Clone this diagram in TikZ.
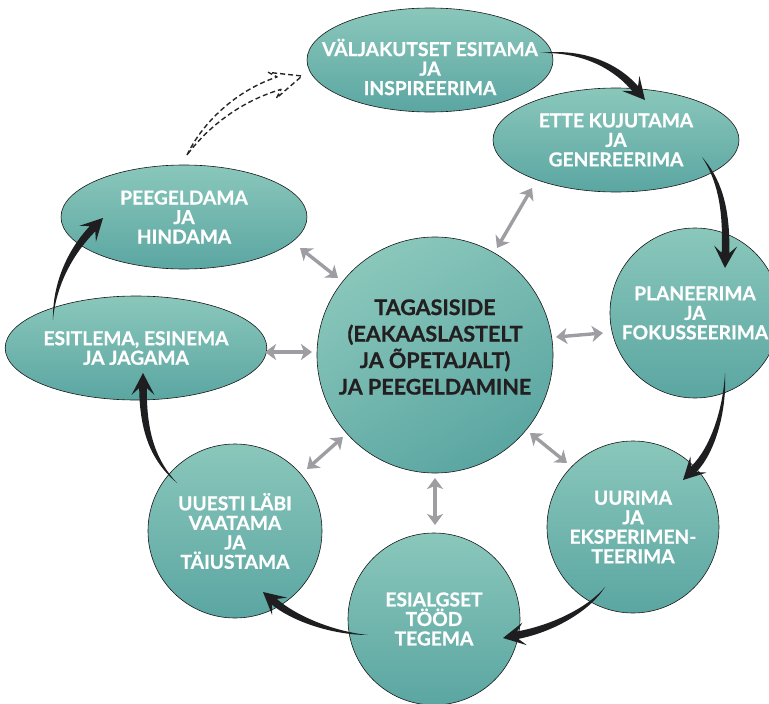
\documentclass[tikz,border=0pt]{standalone}
\usepackage{fontspec}
\newfontfamily\diafont{Lato}[BoldFeatures={FakeBold=0.8}]
\usetikzlibrary{calc,arrows.meta,shapes.geometric}
\definecolor{tealtop}{RGB}{138,199,187}
\definecolor{tealbot}{RGB}{91,166,162}
\definecolor{darktext}{RGB}{35,31,32}
\definecolor{arrowgray}{RGB}{158,158,162}
\definecolor{arrowblack}{RGB}{30,30,32}
\newcommand\stagefont{\diafont\bfseries\fontsize{19.2}{19.5}\selectfont}
\newcommand\hubfont{\diafont\bfseries\fontsize{21.5}{26.5}\selectfont}
\tikzset{
 stage/.style={draw=black!90, line width=0.6pt, top color=tealtop, bottom color=tealbot,
   inner sep=0pt, align=center, text=white, font=\stagefont},
 ovalstage/.style={stage, ellipse, minimum width=246pt, minimum height=104pt},
 roundstage/.style={stage, circle, minimum size=#1},
 hubtext/.style={align=center, text=darktext, font=\hubfont, inner sep=0pt},
 stagetext/.style={align=center, text=white, font=\stagefont, inner sep=0pt},
 linkarrow/.style={draw=arrowgray, line width=3.4pt,
   {Stealth[length=11pt,width=16pt,inset=3pt]}-{Stealth[length=11pt,width=16pt,inset=3pt]}},
 flowarrow/.style={fill=arrowblack},
 hintarrow/.style={draw=black!85, line width=1.4pt, dash pattern=on 5pt off 3pt, line join=round},
}
% #1 style, #2 start, #3 control 1, #4 control 2, #5 tip,
% #6 body half width, #7 inset from tip, #8 extra back of corners, #9 head half width
\newcommand\taperarrow[9]{%
  \pgfmathsetmacro\twa{0.55*#6}%
  \pgfmathsetmacro\twb{0.9*#6}%
  \pgfmathsetmacro\tbk{#7+#8}%
  \coordinate (tE) at ($(#5)!#7pt!(#4)$);
  \coordinate (tB) at ($(#5)!\tbk pt!(#4)$);
  \path[#1] (#2)
    .. controls ($(#3)!\twa pt!90:(#4)$) and ($(#4)!\twb pt!90:(tE)$) .. ($(tE)!#6pt!-90:(#4)$)
    -- ($(tB)!#9pt!-90:(#4)$) -- (#5) -- ($(tB)!#9pt!90:(#4)$) -- ($(tE)!#6pt!90:(#4)$)
    .. controls ($(#4)!\twb pt!-90:(tE)$) and ($(#3)!\twa pt!-90:(#4)$) .. (#2) -- cycle;
}
\begin{document}
\begin{tikzpicture}[x=1pt,y=-1pt]
\useasboundingbox (0,0) rectangle (769,704);

% stages
\node[ovalstage] (v) at (430,60) {};
\node[stagetext] (vtext) at (430,67) {VÄLJAKUTSET ESITAMA\\JA\\INSPIREERIMA};
\node[ovalstage] (e) at (616,140) {ETTE KUJUTAMA\\JA\\GENEREERIMA};
\node[roundstage=170pt] (p) at (695,313) {PLANEERIMA\\JA\\FOKUSSEERIMA};
\node[roundstage=172pt] (u) at (633,527) {UURIMA\\JA\\EKSPERIMEN-\\TEERIMA};
\node[roundstage=172pt] (t) at (434,619) {ESIALGSET\\TÖÖD\\TEGEMA};
\node[roundstage=174pt] (r) at (235,531) {UUESTI LÄBI\\VAATAMA\\JA\\TÄIUSTAMA};
\node[ovalstage] (s) at (136,348) {ESITLEMA, ESINEMA\\JA JAGAMA};
\node[ovalstage] (h) at (184,217) {PEEGELDAMA\\JA\\HINDAMA};

% hub
\node[stage, circle, minimum size=236pt, shading angle=30] (c) at (435,355) {};
\node[hubtext] (ctext) at (435,347) {TAGASISIDE\\(EAKAASLASTELT\\JA ÕPETAJALT)\\JA PEEGELDAMINE};

% two-way links
\draw[linkarrow] ($(c)+(62,-107)$) -- ($(e)+(-84,48)$);
\draw[linkarrow] ($(c)+(121,-18)$) -- ($(p)+(-92,20)$);
\draw[linkarrow] ($(c)+(-97,-77)$) -- ($(h)+(116,31)$);
\draw[linkarrow] ($(c)+(-123,-3)$) -- ($(s)+(129,4)$);
\draw[linkarrow] ($(c)+(-92,82)$) -- ($(r)+(72,-62)$);
\draw[linkarrow] ($(c)+(0,123)$) -- ($(t)+(1,-94)$);
\draw[linkarrow] ($(c)+(95,78)$) -- ($(u)+(-66,-64)$);

% cycle arrows
\coordinate (a1s) at ($(v)+(110,-7)$);  \coordinate (a1t) at ($(e)+(29,-40)$);
\coordinate (a1a) at (580,50);  \coordinate (a1b) at (614,64);
\coordinate (a2s) at ($(e)+(86,17)$);   \coordinate (a2t) at ($(p)+(30,-45)$);
\coordinate (a2a) at (718,178); \coordinate (a2b) at (727,205);
\coordinate (a3s) at ($(p)+(30,60)$);   \coordinate (a3t) at ($(u)+(50,-47)$);
\coordinate (a3a) at (725,410); \coordinate (a3b) at (713,450);
\coordinate (a4s) at ($(u)+(-28,60)$);  \coordinate (a4t) at ($(t)+(69,19)$);
\coordinate (a4a) at (590,608); \coordinate (a4b) at (555,628);
\coordinate (a5s) at ($(t)+(-66,16)$);  \coordinate (a5t) at ($(r)+(28,61)$);
\coordinate (a5a) at (330,633); \coordinate (a5b) at (292,617);
\coordinate (a6s) at ($(r)+(-58,-48)$); \coordinate (a6t) at ($(s)+(7,25)$);
\coordinate (a6a) at (155,462); \coordinate (a6b) at (143,435);
\coordinate (a7s) at ($(s)+(-83,-28)$); \coordinate (a7t) at ($(h)+(-81,1)$);
\coordinate (a7a) at (54,285);  \coordinate (a7b) at (70,252);
\coordinate (a8s) at ($(h)+(3,-62)$);   \coordinate (a8t) at ($(v)+(-128,16)$);
\coordinate (a8a) at (205,125); \coordinate (a8b) at (238,96);

\taperarrow{flowarrow}{a1s}{a1a}{a1b}{a1t}{3.8}{15}{7}{11.5}
\taperarrow{flowarrow}{a2s}{a2a}{a2b}{a2t}{3.8}{15}{7}{11.5}
\taperarrow{flowarrow}{a3s}{a3a}{a3b}{a3t}{3.8}{15}{7}{11.5}
\taperarrow{flowarrow}{a4s}{a4a}{a4b}{a4t}{3.8}{15}{7}{11.5}
\taperarrow{flowarrow}{a5s}{a5a}{a5b}{a5t}{3.8}{15}{7}{11.5}
\taperarrow{flowarrow}{a6s}{a6a}{a6b}{a6t}{3.8}{15}{7}{11.5}
\taperarrow{flowarrow}{a7s}{a7a}{a7b}{a7t}{3.8}{15}{7}{11.5}
\taperarrow{hintarrow}{a8s}{a8a}{a8b}{a8t}{6.5}{24}{7}{13.5}
\end{tikzpicture}
\end{document}
